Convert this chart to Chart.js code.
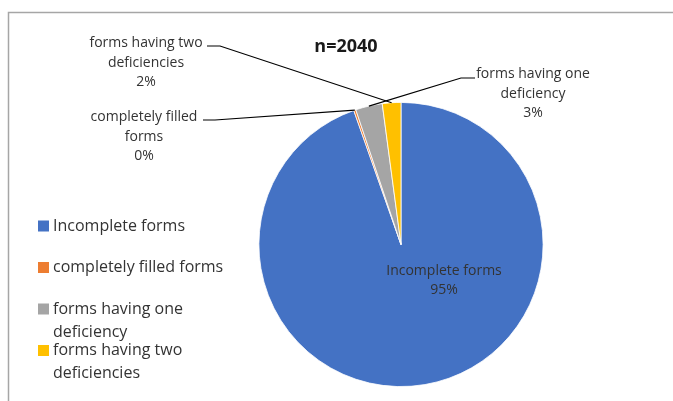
<!DOCTYPE html>
<html>
<head>
<meta charset="utf-8">
<script src="https://cdn.jsdelivr.net/npm/chart.js@4/dist/chart.umd.min.js"></script>
<style>
body { margin: 0; background: #fff; }
#wrap { width: 673px; height: 401px; }
</style>
</head>
<body>
<div id="wrap"><canvas id="pieChart" width="673" height="401"></canvas></div>
<script>
const categories = ['Incomplete forms', 'completely filled forms', 'forms having one deficiency', 'forms having two deficiencies'];
const formCounts = [1930, 5, 62, 43];
const sliceColors = ['#4472C4', '#ED7D31', '#A5A5A5', '#FFC000'];
const chartTitle = 'n=2040';

const total = formCounts.reduce((a, b) => a + b, 0);
const percents = formCounts.map(v => Math.round(v / total * 100) + '%');

// label name lines as Excel wrapped them
const labelNames = [['Incomplete forms'], ['completely filled', 'forms'], ['forms having one', 'deficiency'], ['forms having two', 'deficiencies']];

const FONT = '"Open Sans", sans-serif';
const TEXT_COLOR = '#333333';

// where each data label sits, and its leader line (start, elbow) -- arc end comes from the chart
const labelLayout = [
  { x: 444, y: 271, lead: null },
  { x: 144, y: 117, lead: [[203, 120], [215, 120]] },
  { x: 533, y: 74, lead: [[475, 78], [461, 78]] },
  { x: 146, y: 43, lead: [[207, 46], [220, 46]] }
];

const framePlugin = {
  id: 'frame',
  beforeDraw(chart) {
    const ctx = chart.ctx;
    ctx.save();
    ctx.fillStyle = '#fff';
    ctx.fillRect(0, 0, chart.width, chart.height);
    ctx.strokeStyle = '#a6a6a6';
    ctx.lineWidth = 1.5;
    ctx.beginPath();
    ctx.moveTo(8.5, chart.height);
    ctx.lineTo(8.5, 12.5);
    ctx.lineTo(chart.width, 12.5);
    ctx.stroke();
    ctx.restore();
  }
};

const labelPlugin = {
  id: 'sliceLabels',
  afterDatasetsDraw(chart) {
    const ctx = chart.ctx;
    const meta = chart.getDatasetMeta(0);
    ctx.save();
    // leader lines first
    meta.data.forEach((arc, i) => {
      const lay = labelLayout[i];
      if (!lay.lead) return;
      const p = arc.getProps(['x', 'y', 'startAngle', 'endAngle', 'outerRadius'], true);
      const mid = (p.startAngle + p.endAngle) / 2;
      const ex = p.x + Math.cos(mid) * p.outerRadius;
      const ey = p.y + Math.sin(mid) * p.outerRadius;
      ctx.strokeStyle = '#000';
      ctx.lineWidth = 1.2;
      ctx.beginPath();
      ctx.moveTo(lay.lead[0][0], lay.lead[0][1]);
      ctx.lineTo(lay.lead[1][0], lay.lead[1][1]);
      ctx.lineTo(ex, ey);
      ctx.stroke();
    });
    ctx.font = '14px ' + FONT;
    ctx.textAlign = 'center';
    ctx.textBaseline = 'middle';
    ctx.fillStyle = TEXT_COLOR;
    meta.data.forEach((arc, i) => {
      const lay = labelLayout[i];
      const lines = labelNames[i].concat([percents[i]]);
      const lh = i === 0 ? 19 : 19.7;
      lines.forEach((t, k) => ctx.fillText(t, lay.x, lay.y + k * lh));
    });

    // title
    ctx.font = 'bold 18px ' + FONT;
    ctx.fillStyle = '#1a1a1a';
    ctx.fillText(chartTitle, 346, 47);

    // legend
    ctx.font = '16px ' + FONT;
    ctx.textAlign = 'left';
    const maxW = 195;
    categories.forEach((name, i) => {
      const y0 = 226 + i * 41.5;
      ctx.fillStyle = sliceColors[i];
      ctx.fillRect(38, y0 - 5.5, 11, 11);
      ctx.fillStyle = TEXT_COLOR;
      const words = name.split(' ');
      const lines = [];
      let cur = '';
      words.forEach(w => {
        const test = cur ? cur + ' ' + w : w;
        if (ctx.measureText(test).width > maxW && cur) { lines.push(cur); cur = w; }
        else cur = test;
      });
      lines.push(cur);
      lines.forEach((t, k) => ctx.fillText(t, 53, y0 + k * 23));
    });
    ctx.restore();
  }
};

new Chart(document.getElementById('pieChart'), {
  type: 'pie',
  data: {
    labels: categories,
    datasets: [{
      data: formCounts,
      backgroundColor: sliceColors,
      borderColor: '#fff',
      borderWidth: 0.8
    }]
  },
  options: {
    responsive: false,
    animation: false,
    layout: { padding: { top: 102, bottom: 14, left: 258.5, right: 129.5 } },
    plugins: {
      legend: { display: false },
      tooltip: { enabled: false },
      title: { display: false }
    }
  },
  plugins: [framePlugin, labelPlugin]
});
</script>
</body>
</html>
